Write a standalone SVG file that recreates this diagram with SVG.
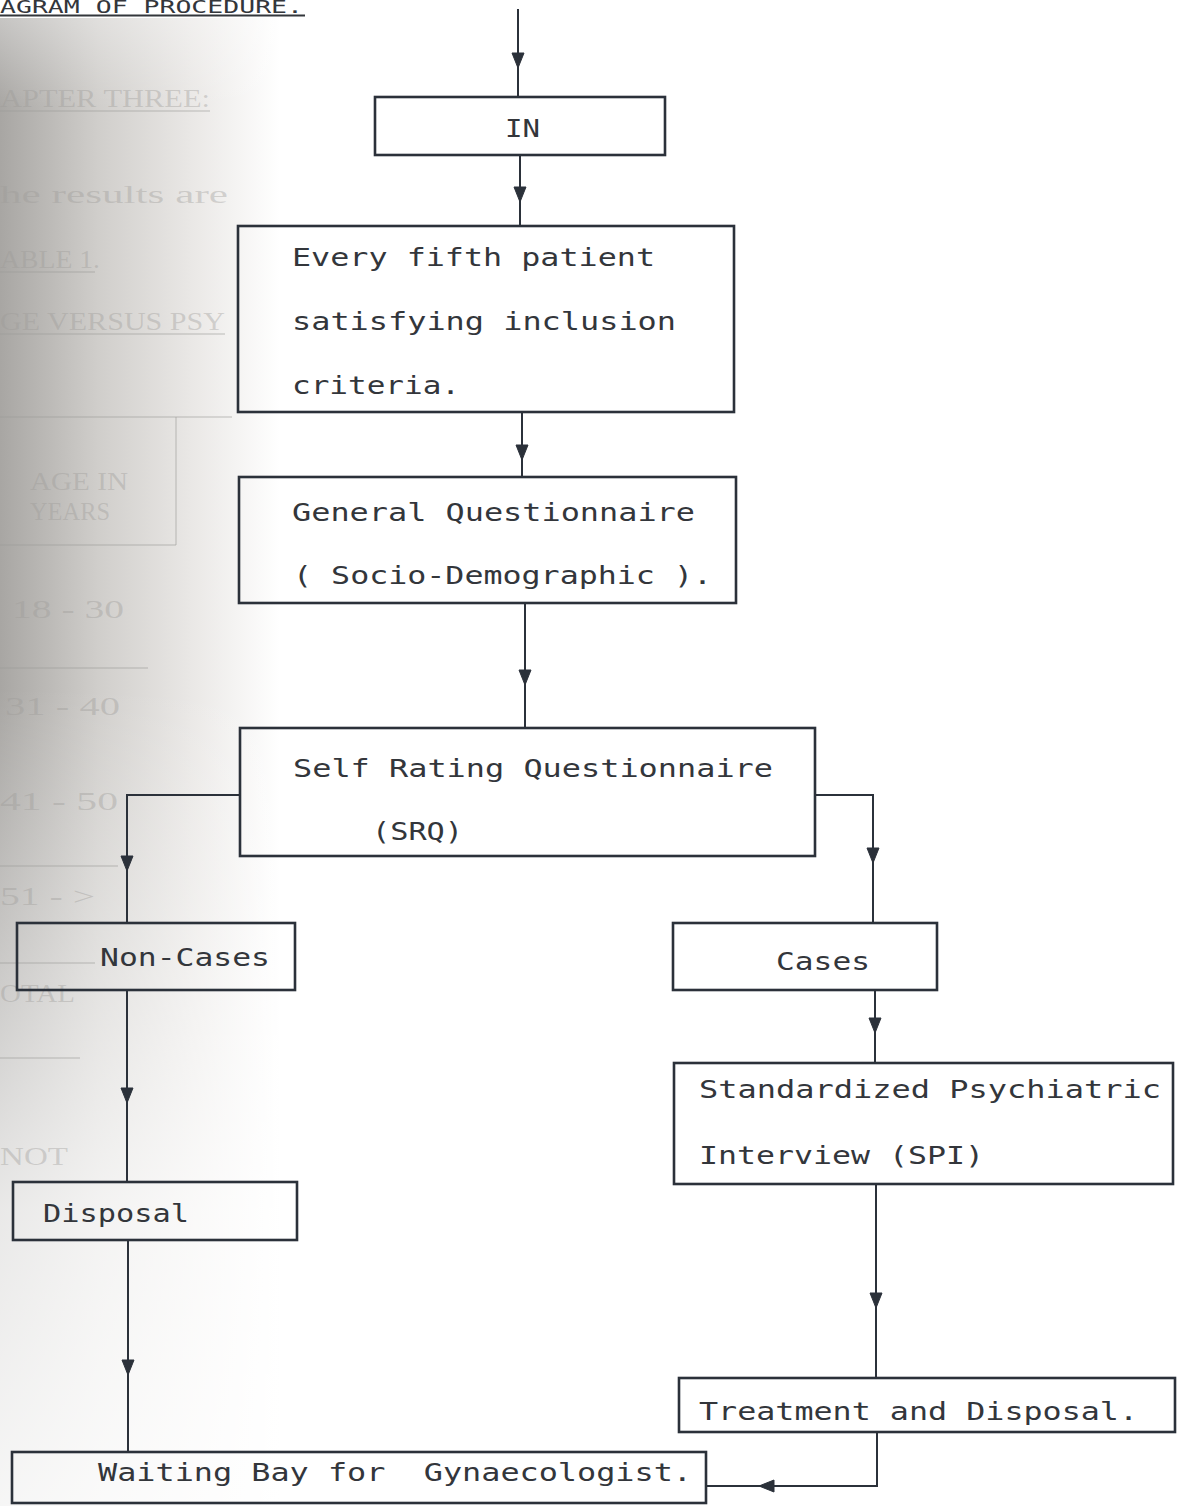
<svg xmlns="http://www.w3.org/2000/svg" width="1183" height="1506" viewBox="0 0 1183 1506">
<style>
  .bg { fill: #ffffff; }
  .box { fill: none; stroke: #2b313a; stroke-width: 2.6; }
  .conn { fill: none; stroke: #2b313a; stroke-width: 2; }
  .ah { fill: #2b313a; stroke: #2b313a; stroke-width: 1; stroke-linejoin: round; }
  .t { font-family: "DejaVu Sans Mono", "Liberation Mono", monospace; font-size: 24px; fill: #33363b; }
  .ghost { font-family: "Liberation Serif", "DejaVu Serif", serif; font-size: 26px; fill: #9c9a97; fill-opacity: 0.38; }
  .gline { stroke: #9c9a97; stroke-opacity: 0.32; stroke-width: 2; }
</style>
<defs>
  <linearGradient id="shade" x1="0" y1="0" x2="1" y2="0">
    <stop offset="0" stop-color="#a8a6a3"/>
    <stop offset="0.35" stop-color="#d0cecb"/>
    <stop offset="0.7" stop-color="#ebe9e7"/>
    <stop offset="1" stop-color="#ffffff"/>
  </linearGradient>
  <linearGradient id="fade" x1="0" y1="0" x2="0" y2="1">
    <stop offset="0" stop-color="#ffffff" stop-opacity="0.35"/>
    <stop offset="0.06" stop-color="#ffffff" stop-opacity="0"/>
    <stop offset="0.45" stop-color="#ffffff" stop-opacity="0"/>
    <stop offset="0.8" stop-color="#ffffff" stop-opacity="0.75"/>
    <stop offset="1" stop-color="#ffffff" stop-opacity="0.9"/>
  </linearGradient>
  <path id="ah" d="M0,0 L-6,-15 L6,-15 Z"/>
</defs>

<rect class="bg" x="0" y="0" width="1183" height="1506"/>
<g id="scan-shade">
  <rect x="0" y="18" width="280" height="1488" fill="url(#shade)"/>
  <rect x="0" y="18" width="280" height="1488" fill="url(#fade)"/>
</g>

<g id="bleed-through">
  <text class="ghost" x="0" y="107" textLength="210" lengthAdjust="spacingAndGlyphs">APTER THREE:</text>
  <line class="gline" x1="0" y1="111" x2="210" y2="111"/>
  <text class="ghost" x="0" y="203" textLength="228" lengthAdjust="spacingAndGlyphs">he results are</text>
  <text class="ghost" x="0" y="268" textLength="100" lengthAdjust="spacingAndGlyphs">ABLE 1.</text>
  <line class="gline" x1="0" y1="272" x2="95" y2="272"/>
  <text class="ghost" x="0" y="330" textLength="225" lengthAdjust="spacingAndGlyphs">GE VERSUS PSY</text>
  <line class="gline" x1="0" y1="334" x2="225" y2="334"/>
  <line class="gline" x1="0" y1="417" x2="232" y2="417"/>
  <line class="gline" x1="176" y1="417" x2="176" y2="545"/>
  <text class="ghost" x="30" y="490" textLength="98" lengthAdjust="spacingAndGlyphs">AGE IN</text>
  <text class="ghost" x="30" y="520" textLength="80" lengthAdjust="spacingAndGlyphs">YEARS</text>
  <line class="gline" x1="0" y1="545" x2="176" y2="545"/>
  <text class="ghost" x="12" y="618" textLength="112" lengthAdjust="spacingAndGlyphs">18 - 30</text>
  <line class="gline" x1="0" y1="668" x2="148" y2="668"/>
  <text class="ghost" x="5" y="715" textLength="115" lengthAdjust="spacingAndGlyphs">31 - 40</text>
  <text class="ghost" x="0" y="810" textLength="118" lengthAdjust="spacingAndGlyphs">41 - 50</text>
  <line class="gline" x1="0" y1="866" x2="118" y2="866"/>
  <text class="ghost" x="0" y="905" textLength="95" lengthAdjust="spacingAndGlyphs">51 - &gt;</text>
  <line class="gline" x1="0" y1="963" x2="95" y2="963"/>
  <text class="ghost" x="0" y="1002" textLength="75" lengthAdjust="spacingAndGlyphs">OTAL</text>
  <line class="gline" x1="0" y1="1058" x2="80" y2="1058"/>
  <text class="ghost" x="0" y="1165" textLength="68" lengthAdjust="spacingAndGlyphs">NOT</text>
</g>

<g id="title">
  <text class="t" x="0" y="13" font-size="17" style="font-size:17px" textLength="303" lengthAdjust="spacingAndGlyphs">AGRAM OF PROCEDURE.</text>
  <line x1="0" y1="15.5" x2="305" y2="15.5" stroke="#33363b" stroke-width="2"/>
</g>

<g id="connectors">
  <path class="conn" d="M518,9 V97"/>
  <use class="ah" href="#ah" x="518" y="68"/>
  <path class="conn" d="M520,155 V226"/>
  <use class="ah" href="#ah" x="520" y="202"/>
  <path class="conn" d="M522,412 V477"/>
  <use class="ah" href="#ah" x="522" y="460"/>
  <path class="conn" d="M525,603 V728"/>
  <use class="ah" href="#ah" x="525" y="685"/>
  <path class="conn" d="M240,795 H127 V923"/>
  <use class="ah" href="#ah" x="127" y="871"/>
  <path class="conn" d="M815,795 H873 V923"/>
  <use class="ah" href="#ah" x="873" y="863"/>
  <path class="conn" d="M127,990 V1182"/>
  <use class="ah" href="#ah" x="127" y="1103"/>
  <path class="conn" d="M875,990 V1063"/>
  <use class="ah" href="#ah" x="875" y="1033"/>
  <path class="conn" d="M128,1240 V1452"/>
  <use class="ah" href="#ah" x="128" y="1375"/>
  <path class="conn" d="M876,1184 V1378"/>
  <use class="ah" href="#ah" x="876" y="1308"/>
  <path class="conn" d="M877,1432 V1486 H706"/>
  <use class="ah" href="#ah" transform="translate(759,1486) rotate(90)"/>
</g>

<g id="node-in">
  <rect class="box" x="375" y="97" width="290" height="58"/>
  <text class="t" x="505" y="137" textLength="35" lengthAdjust="spacingAndGlyphs">IN</text>
</g>

<g id="node-every-fifth">
  <rect class="box" x="238" y="226" width="496" height="186"/>
  <text class="t" x="292" y="266" textLength="363" lengthAdjust="spacingAndGlyphs">Every fifth patient</text>
  <text class="t" x="292" y="330" textLength="384" lengthAdjust="spacingAndGlyphs">satisfying inclusion</text>
  <text class="t" x="292" y="394" textLength="168" lengthAdjust="spacingAndGlyphs">criteria.</text>
</g>

<g id="node-general">
  <rect class="box" x="239" y="477" width="497" height="126"/>
  <text class="t" x="292" y="521" textLength="403" lengthAdjust="spacingAndGlyphs">General Questionnaire</text>
  <text class="t" x="293" y="584" textLength="419" lengthAdjust="spacingAndGlyphs">( Socio-Demographic ).</text>
</g>

<g id="node-srq">
  <rect class="box" x="240" y="728" width="575" height="128"/>
  <text class="t" x="293" y="777" textLength="480" lengthAdjust="spacingAndGlyphs">Self Rating Questionnaire</text>
  <text class="t" x="372" y="840" textLength="91" lengthAdjust="spacingAndGlyphs">(SRQ)</text>
</g>

<g id="node-non-cases">
  <rect class="box" x="17" y="923" width="278" height="67"/>
  <text class="t" x="100" y="966" textLength="170" lengthAdjust="spacingAndGlyphs">Non-Cases</text>
</g>

<g id="node-cases">
  <rect class="box" x="673" y="923" width="264" height="67"/>
  <text class="t" x="776" y="970" textLength="94" lengthAdjust="spacingAndGlyphs">Cases</text>
</g>

<g id="node-spi">
  <rect class="box" x="674" y="1063" width="499" height="121"/>
  <text class="t" x="699" y="1098" textLength="462" lengthAdjust="spacingAndGlyphs">Standardized Psychiatric</text>
  <text class="t" x="699" y="1164" textLength="285" lengthAdjust="spacingAndGlyphs">Interview (SPI)</text>
</g>

<g id="node-disposal">
  <rect class="box" x="13" y="1182" width="284" height="58"/>
  <text class="t" x="43" y="1222" textLength="146" lengthAdjust="spacingAndGlyphs">Disposal</text>
</g>

<g id="node-treatment">
  <rect class="box" x="679" y="1378" width="496" height="54"/>
  <text class="t" x="699" y="1420" textLength="439" lengthAdjust="spacingAndGlyphs">Treatment and Disposal.</text>
</g>

<g id="node-waiting">
  <rect class="box" x="12" y="1452" width="694" height="51"/>
  <text class="t" x="98" y="1481" xml:space="preserve" textLength="594" lengthAdjust="spacingAndGlyphs">Waiting Bay for  Gynaecologist.</text>
</g>
</svg>
